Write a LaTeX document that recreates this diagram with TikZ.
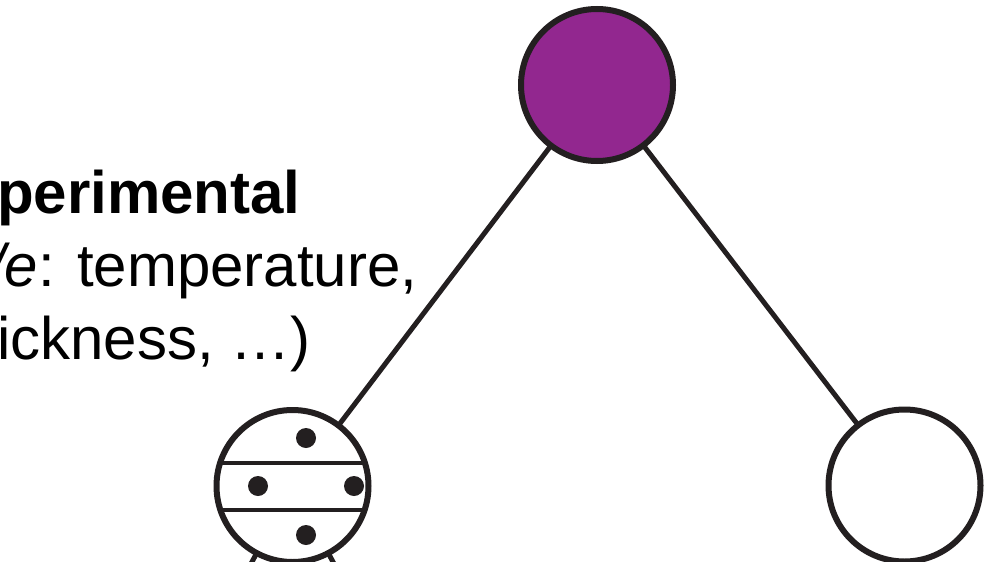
\documentclass[tikz,border=0pt]{standalone}
\usepackage{fontspec}
\setmainfont{Liberation Sans}
\usetikzlibrary{positioning}
\definecolor{ink}{HTML}{231F20}
\definecolor{plum}{HTML}{92278F}
\tikzstyle{state} = [circle, minimum size=152pt, inner sep=0pt, draw=ink, line width=6pt, fill=white]
\tikzstyle{textline} = [anchor=base west, inner sep=0pt, text=black, font=\fontsize{60}{72}\selectfont]
\tikzstyle{link} = [draw=ink, line width=5pt]
\tikzstyle{stripe} = [draw=ink, line width=4pt]
\tikzstyle{dot} = [fill=ink]

\begin{document}
\begin{tikzpicture}[x=1pt,y=-1pt]
    \useasboundingbox (0,0) rectangle (1001,562);

    % Edges
    \coordinate (childA) at (79,886);
    \coordinate (childB) at (506,886);
    \path
    (597,85) coordinate (r0) edge[link] (292.5,486)
    (597,85) edge[link] (904.5,485.5)
    (292.5,486) edge[link] (childA)
    (292.5,486) edge[link] (childB);

    % Nodes
    \node[state, fill=plum] (root) at (597,85) {};
    \node[state] (left) at (292.5,486) {};
    \node[state] (right) at (904.5,485.5) {};

    % Stripes and dots
    \begin{scope}
        \clip (left) circle (76pt);
        \draw[stripe] (200,463) -- (380,463);
        \draw[stripe] (200,510) -- (380,510);
    \end{scope}
    \fill[dot] (306,438) circle (10pt);
    \fill[dot] (258,486) circle (10pt);
    \fill[dot] (354,486) circle (10pt);
    \fill[dot] (306,535) circle (10pt);

    % Text
    \node[textline] (title) at (-3,213) {\textbf{perimental}};
    \node[textline] (example) at (-12,286) {\textit{/e}: temperature,};
    \node[textline] (more) at (-3,359) {ickness, …)};

\end{tikzpicture}
\end{document}
